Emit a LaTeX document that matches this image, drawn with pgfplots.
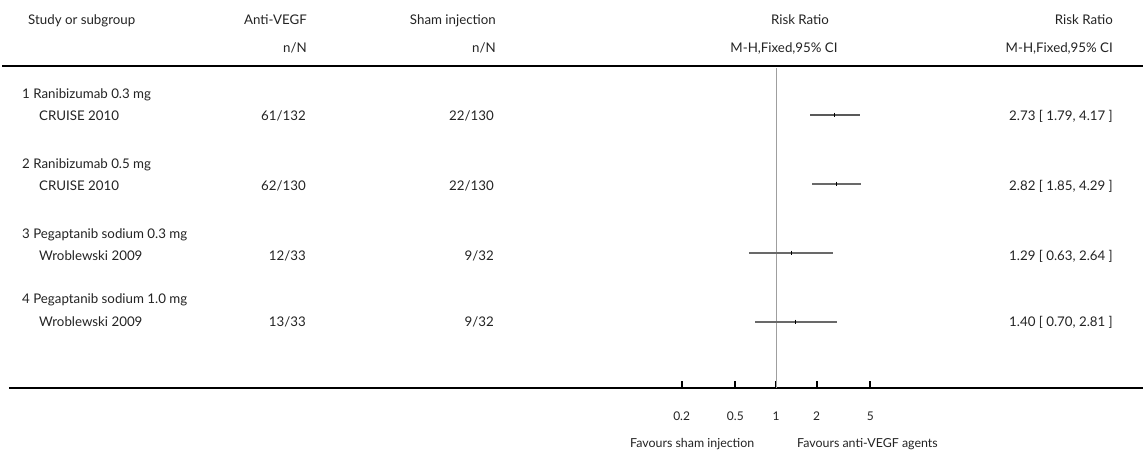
\documentclass[border=0pt]{standalone}
\usepackage{pgfplots}
\pgfplotsset{compat=1.18}
\usepackage{fontspec}
\setmainfont{Lato}
\definecolor{cigray}{RGB}{105,105,105}
\definecolor{txt}{RGB}{35,35,35}

\begin{document}
\begin{tikzpicture}
\path[use as bounding box] (0pt,0pt) rectangle (1143pt,-452pt);

% forest plot axis: x = risk ratio (log), y = row number (1 at top)
\begin{axis}[
    at={(9pt,-388pt)}, anchor=south west,
    scale only axis, width=1134pt, height=322pt,
    xmode=log, xmin=2.08e-6, xmax=523,
    ymin=0.29, ymax=4.9565, y dir=reverse,
    hide y axis,
    axis x line=bottom,
    x axis line style={-, line width=1.8pt, black},
    xtick={0.2,0.5,1,2,5},
    xticklabels={0.2,0.5,1,2,5},
    minor xtick={},
    xtick align=inside,
    major tick length=7pt,
    every tick/.style={black, line width=2.2pt},
    xticklabel style={anchor=base, yshift=-32pt, text=txt, inner sep=0pt,
        font=\fontsize{12}{14}\selectfont},
    clip=false,
]
\addplot[gray!75, line width=0.9pt] coordinates {(1,0.32) (1,4.9565)};
\addplot[cigray!85!black, line width=1.4pt] coordinates {(1.79,1) (4.17,1)};
\addplot[cigray, line width=1.4pt] coordinates {(1.85,2) (4.29,2)};
\addplot[cigray, line width=1.4pt] coordinates {(0.63,3) (2.64,3)};
\addplot[cigray, line width=1.4pt] coordinates {(0.70,4) (2.81,4)};
\addplot[only marks, mark=|, mark size=2.4pt, black, mark options={line width=0.8pt}]
    coordinates {(2.73,1) (2.82,2) (1.29,3) (1.40,4)};
\end{axis}

\begin{scope}[x=1pt,y=-1pt,
  every node/.style={inner sep=0pt,text=txt,font=\fontsize{13.3}{15}\selectfont}]
\draw[line width=1.8pt, black] (2,66) -- (1143,66);

% header
\node[anchor=base west] at (28,25) {Study or subgroup};
\node[anchor=base east] at (307,25) {Anti-VEGF};
\node[anchor=base east] at (496,25) {Sham injection};
\node[anchor=base] at (800,25) {Risk Ratio};
\node[anchor=base east] at (1113,25) {Risk Ratio};
\node[anchor=base east] at (307,53) {n/N};
\node[anchor=base east] at (496,53) {n/N};
\node[anchor=base] at (784,53) {M-H,Fixed,95\% CI};
\node[anchor=base east] at (1113,53) {M-H,Fixed,95\% CI};

% rows
\node[anchor=base west] at (22,98) {1 Ranibizumab 0.3 mg};
\node[anchor=base west] at (39,120) {CRUISE 2010};
\node[anchor=base east] at (306,120) {61/132};
\node[anchor=base east] at (494,120) {22/130};
\node[anchor=base east] at (1113,120) {2.73 [ 1.79, 4.17 ]};

\node[anchor=base west] at (22,168) {2 Ranibizumab 0.5 mg};
\node[anchor=base west] at (39,190) {CRUISE 2010};
\node[anchor=base east] at (306,190) {62/130};
\node[anchor=base east] at (494,190) {22/130};
\node[anchor=base east] at (1113,190) {2.82 [ 1.85, 4.29 ]};

\node[anchor=base west] at (22,238) {3 Pegaptanib sodium 0.3 mg};
\node[anchor=base west] at (39,260) {Wroblewski 2009};
\node[anchor=base east] at (306,260) {12/33};
\node[anchor=base east] at (494,260) {9/32};
\node[anchor=base east] at (1113,260) {1.29 [ 0.63, 2.64 ]};

\node[anchor=base west] at (22,303) {4 Pegaptanib sodium 1.0 mg};
\node[anchor=base west] at (39,326) {Wroblewski 2009};
\node[anchor=base east] at (306,326) {13/33};
\node[anchor=base east] at (494,326) {9/32};
\node[anchor=base east] at (1113,326) {1.40 [ 0.70, 2.81 ]};

% favours
\node[anchor=base west, font=\fontsize{12.4}{14}\selectfont] at (630,447) {Favours sham injection};
\node[anchor=base west, font=\fontsize{12.4}{14}\selectfont] at (797,447) {Favours anti-VEGF agents};
\end{scope}
\end{tikzpicture}
\end{document}
